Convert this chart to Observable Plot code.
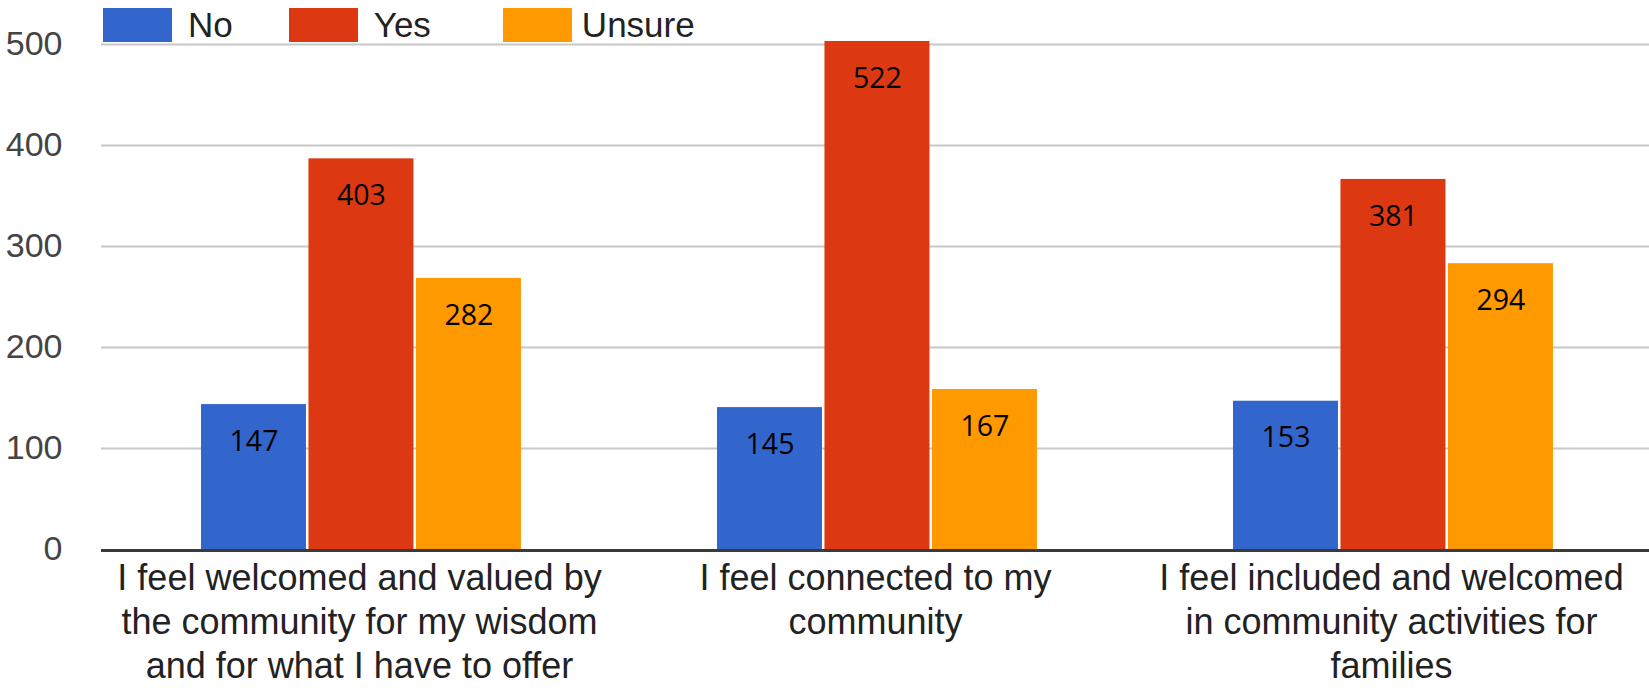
<!DOCTYPE html>
<html>
<head>
<meta charset="utf-8">
<script src="https://cdn.jsdelivr.net/npm/d3@7"></script>
<script src="https://cdn.jsdelivr.net/npm/@observablehq/plot@0.6"></script>
<style>
html, body { margin: 0; padding: 0; background: #fff; }
#wrap { position: relative; width: 1649px; height: 688px; overflow: hidden; }
#legend { position: absolute; left: 103px; top: 8px; display: flex; align-items: center;
  font-family: "Liberation Sans", Arial, sans-serif; font-size: 35px; color: #222; line-height: 34px; }
.item { display: flex; align-items: center; }
.item:nth-child(1) { margin-right: 56px; }
.item:nth-child(2) { margin-right: 72px; }
.sw { width: 69px; height: 34px; margin-right: 16px; }
.item:nth-child(3) .sw { margin-right: 10px; }
</style>
</head>
<body>
<div id="wrap"><div id="legend"></div></div>
<script>
// Categories (questions) and their wrapped tick labels
const categories = [
  "I feel welcomed and valued by the community for my wisdom and for what I have to offer",
  "I feel connected to my community",
  "I feel included and welcomed in community activities for families"
];
const categoryLines = [
  "I feel welcomed and valued by\nthe community for my wisdom\nand for what I have to offer",
  "I feel connected to my\ncommunity",
  "I feel included and welcomed\nin community activities for\nfamilies"
];
const series = ["No", "Yes", "Unsure"];
const colors = ["#3366cc", "#dc3912", "#ff9900"];

// Bar heights as drawn in the picture
const barNo = [143.5, 140.5, 146.8];
const barYes = [386.8, 503, 366.4];
const barUnsure = [268.4, 158.4, 283];

// Value labels printed on the bars
const labelNo = [147, 145, 153];
const labelYes = [403, 522, 381];
const labelUnsure = [282, 167, 294];

const yTicks = [0, 100, 200, 300, 400, 500];

const barValues = {No: barNo, Yes: barYes, Unsure: barUnsure};
const labelValues = {No: labelNo, Yes: labelYes, Unsure: labelUnsure};

const rows = [];
categories.forEach((c, i) => {
  series.forEach(s => {
    rows.push({category: c, series: s, value: barValues[s][i], label: String(labelValues[s][i])});
  });
});

const chart = Plot.plot({
  width: 1649,
  height: 688,
  marginTop: 44,
  marginBottom: 139,
  marginLeft: 101,
  marginRight: 0,
  style: {fontFamily: '"Liberation Sans", Arial, sans-serif', background: "white", overflow: "visible"},
  fx: {domain: categories, paddingInner: 0, paddingOuter: 0, round: false, label: null, axis: null},
  x: {domain: series, paddingInner: 0.023, paddingOuter: 0.912, align: 0.51, round: false, axis: null},
  y: {domain: [0, 500], axis: null},
  color: {domain: series, range: colors},
  marks: [
    Plot.gridY({ticks: yTicks.filter(d => d > 0), stroke: "#c8c8c8", strokeOpacity: 1, strokeWidth: 1.8}),
    Plot.barY(rows, {fx: "category", x: "series", y: "value", fill: "series"}),
    Plot.text(rows, {fx: "category", x: "series", y: "value", text: "label", dy: 37,
      fontSize: 28.5, fontFamily: '"Open Sans", sans-serif', fill: "#000"}),
    Plot.ruleY([0], {stroke: "#3a3a3a", strokeWidth: 3, dy: 1}),
    Plot.axisY({ticks: yTicks, tickSize: 0, tickPadding: 39, fontSize: 34, fill: "#444", label: null}),
    Plot.axisFx({anchor: "bottom", tickSize: 0, tickPadding: 9, fontSize: 36, fill: "#222",
      lineHeight: 1.23, label: null, tickFormat: d => categoryLines[categories.indexOf(d)]})
  ]
});

const wrap = document.getElementById("wrap");
wrap.insertBefore(chart, wrap.firstChild);

const legend = document.getElementById("legend");
series.forEach((s, i) => {
  const item = document.createElement("div");
  item.className = "item";
  const sw = document.createElement("div");
  sw.className = "sw";
  sw.style.background = colors[i];
  const t = document.createElement("span");
  t.textContent = s;
  item.appendChild(sw);
  item.appendChild(t);
  legend.appendChild(item);
});
</script>
</body>
</html>
